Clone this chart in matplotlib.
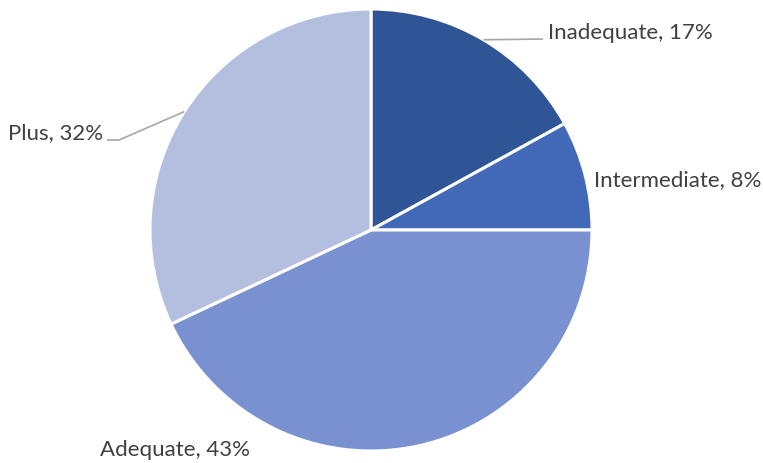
import numpy as np
import matplotlib
matplotlib.use("Agg")
import matplotlib.pyplot as plt

categories = ["Inadequate", "Intermediate", "Adequate", "Plus"]
shares = [17, 8, 43, 32]
colors = ["#2F5597", "#4169B8", "#7991D0", "#B4BFE0"]

plt.rcParams['font.family'] = ['Lato', 'DejaVu Sans']

W, H = 763, 463
fig = plt.figure(figsize=(W / 100, H / 100), dpi=100)
ax = fig.add_axes([0, 0, 1, 1])

cx, cy, r = 371, H - 230, 221
wedges, _ = ax.pie(shares, colors=colors, startangle=90, counterclock=False,
                   center=(cx, cy), radius=r, frame=True,
                   wedgeprops=dict(edgecolor="white", linewidth=2.2))
ax.set_xlim(0, W)
ax.set_ylim(0, H)
ax.set_aspect("equal")
ax.axis("off")

txt_color = "#404040"
fs = 16
labels = [f"{c}, {v}%" for c, v in zip(categories, shares)]

def edge_point(w):
    ang = np.deg2rad((w.theta1 + w.theta2) / 2)
    return cx + r * np.cos(ang), cy + r * np.sin(ang)

lead = "#A6A6A6"
# Inadequate: leader line to the label on the right
x0, y0 = edge_point(wedges[0])
ax.plot([x0, 543], [y0, H - 39], color=lead, lw=1.2, solid_capstyle="butt")
ax.text(548, H - 33, labels[0], ha="left", va="center", fontsize=fs, color=txt_color)

# Intermediate
ax.text(594, H - 180, labels[1], ha="left", va="center", fontsize=fs, color=txt_color)

# Adequate
ax.text(100, H - 450, labels[2], ha="left", va="center", fontsize=fs, color=txt_color)

# Plus: bent leader line
x3, y3 = edge_point(wedges[3])
ax.plot([x3, 119, 107], [y3, H - 140, H - 140], color=lead, lw=1.2, solid_capstyle="butt")
ax.text(103, H - 133, labels[3], ha="right", va="center", fontsize=fs, color=txt_color)

fig.savefig("out.png", dpi=100)
